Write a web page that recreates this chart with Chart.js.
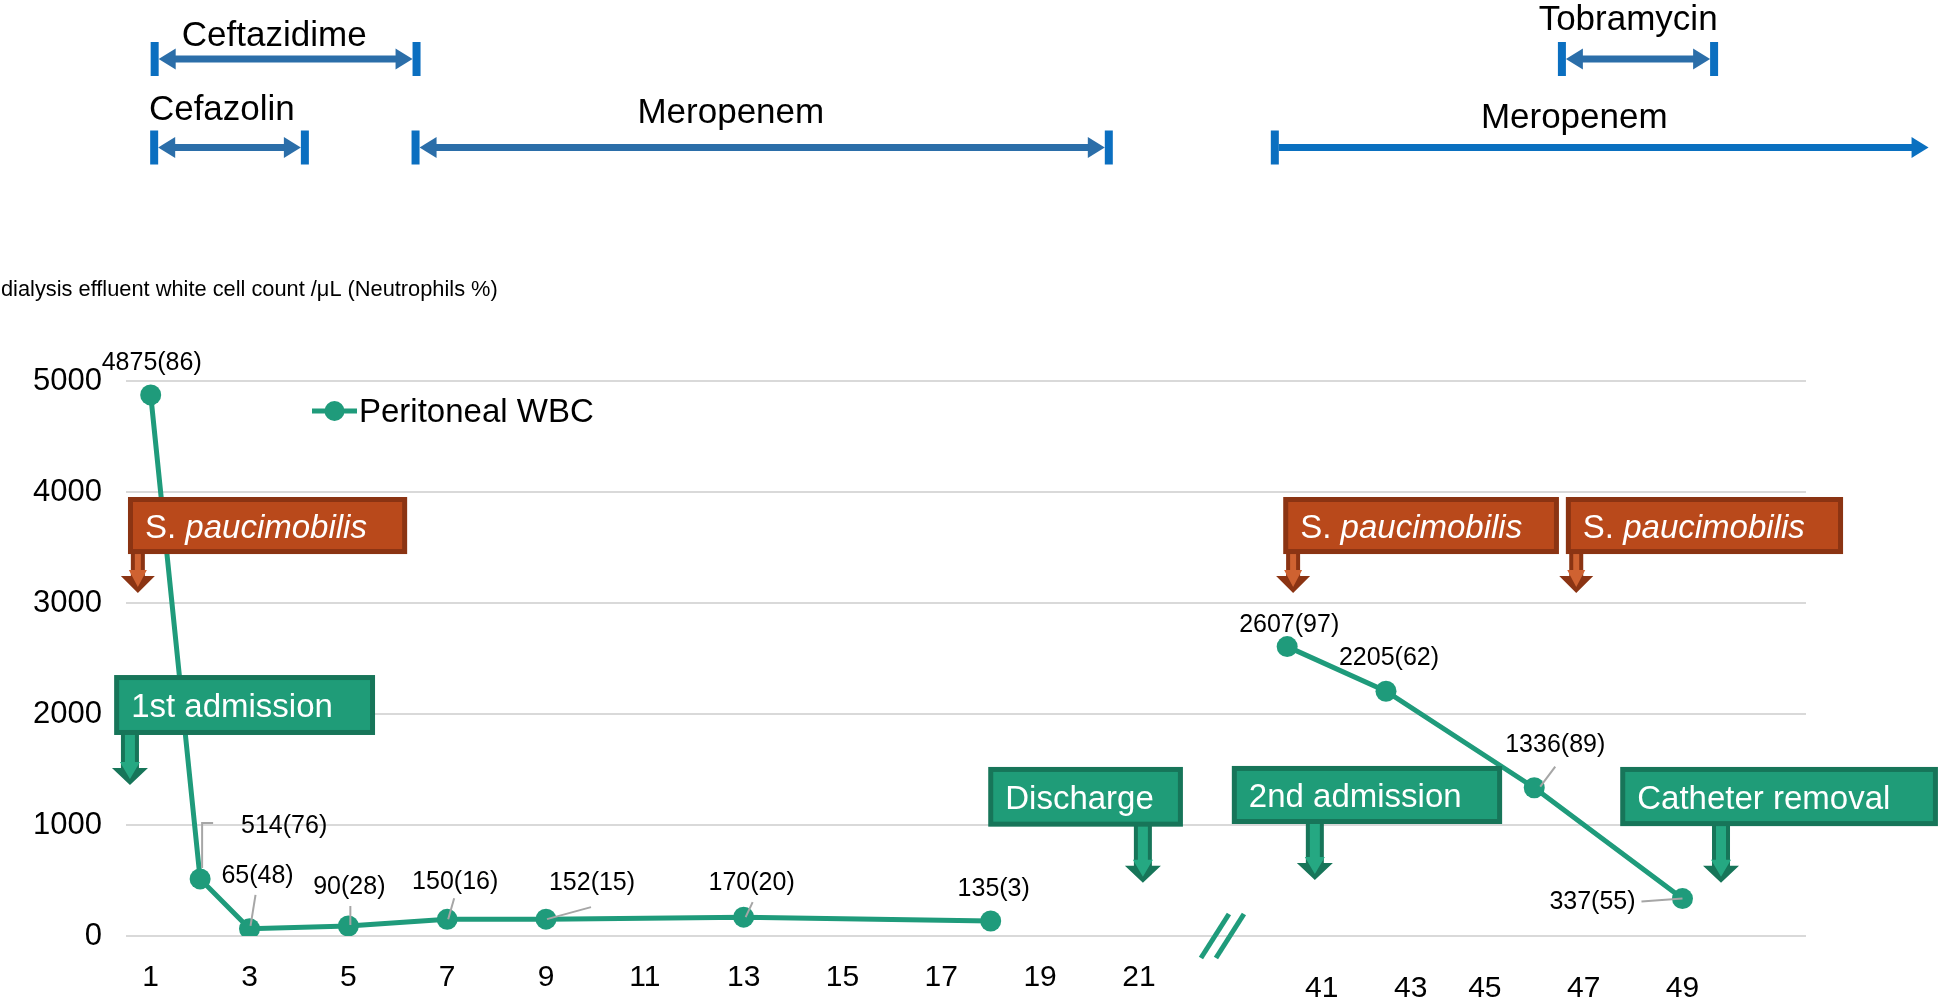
<!DOCTYPE html>
<html>
<head>
<meta charset="utf-8">
<script src="https://cdn.jsdelivr.net/npm/chart.js@4.4.1/dist/chart.umd.min.js"></script>
<style>
html, body { margin: 0; background: #fff; }
#wrap { width: 1953px; height: 1000px; }
</style>
</head>
<body>
<div id="wrap"><canvas id="chart" width="1953" height="1000"></canvas></div>
<script>
// DATA (x = position on the day axis, the axis is broken between day 21 and day 41)
var daySlot = [1, 2, 3, 5, 7, 9, 13, 18, 24, 26, 29, 32];
var wbc     = [4875, 514, 65, 90, 150, 152, 170, 135, 2607, 2205, 1336, 337];
var neutro  = [86, 76, 48, 28, 16, 15, 20, 3, 97, 62, 89, 55];
var breakAfter = 7; // no line between discharge and 2nd admission

var tickSlot = [1, 3, 5, 7, 9, 11, 13, 15, 17, 19, 21, 24.7, 26.5, 28, 30, 32];
var tickText = ['1','3','5','7','9','11','13','15','17','19','21','41','43','45','47','49'];

// antibiotics, in day-axis units
var drugName = ['Ceftazidime', 'Cefazolin', 'Meropenem', 'Tobramycin', 'Meropenem'];
var drugFrom = [1.08, 1.07, 6.36, 29.56, 23.75];
var drugTo   = [6.38, 4.12, 20.39, 32.64, 36.98];

// events, arrow positions in day-axis units
var eventText = ['1st admission', 'Discharge', '2nd admission', 'Catheter removal'];
var eventSlot = [0.58, 21.08, 24.56, 32.78];
var cultureSlot = [0.74, 24.12, 29.85];

// -----------------------------
// styles / placement
var FONT = '"Liberation Sans", Arial, Helvetica, sans-serif';
var TEAL = '#1f9b7b';
var GREEN = '#1f9c78', GREEN_DK = '#177559', GREEN_LT = '#25a882';
var BROWN = '#b9491b', BROWN_DK = '#8b3413', BROWN_LT = '#cf6231';
var BLUE = '#2b6ea9', BLUE_CAP = '#0b6fc0', BLUE2 = '#0a70c0';

var drugRowY  = [59, 147.5, 147.5, 59, 147.5];
var drugTextX = [3.5, 2.44, 12.74, 30.9, 29.81];
var drugTextY = [46, 120, 123, 30, 128];

var eventBox = [
  {x0: 0.26, x1: 5.54, top: 2351, bot: 1811, tip: 1360},
  {x0: 17.95, x1: 21.89, top: 1523, bot: 985, tip: 480},
  {x0: 22.88, x1: 28.35, top: 1532, bot: 1009, tip: 505},
  {x0: 30.74, x1: 37.17, top: 1523, bot: 990, tip: 480}
];
var cultureBox = [
  {x0: 0.54, x1: 6.19},
  {x0: 23.92, x1: 29.50},
  {x0: 29.64, x1: 35.25}
];
var cultureTop = 3955, cultureBot = 3441, cultureTip = 3090;

var labelOffset = [[1,-32],[84,-53],[8,-53],[1,-39],[8,-37],[46,-36],[8,-34],[3,-32],[2,-22],[3,-33],[21,-43],[-90,4]];
var leader = [null, [[2,-11],[2,-56],[13,-56]], [[1,-3],[6,-34]], [[2,-1],[2,-20]], [[1,0],[7,-21]],
  [[1,0],[45,-12]], [[2,0],[9,-15]], null, null, null, [[6,-1],[21,-21]], [[0,0],[-41,3]]];

// -----------------------------
function blockArrow(ctx, cx, top, tip, sw, hw, hl, dark, light){
  function poly(s, h, tp){
    ctx.beginPath();
    ctx.moveTo(cx - s, top);
    ctx.lineTo(cx + s, top);
    ctx.lineTo(cx + s, tp - hl);
    ctx.lineTo(cx + h, tp - hl);
    ctx.lineTo(cx, tp);
    ctx.lineTo(cx - h, tp - hl);
    ctx.lineTo(cx - s, tp - hl);
    ctx.closePath();
    ctx.fill();
  }
  ctx.fillStyle = dark; poly(sw / 2, hw / 2, tip);
  ctx.fillStyle = light; poly(sw / 2 - 4, hw / 2 - 8, tip - 6);
}

function drugBar(ctx, xa, xb, y, open){
  var capW = 8, capH = 34, sh = 7, hl = 17, hh = 21;
  var col = open ? BLUE2 : BLUE;
  ctx.fillStyle = BLUE_CAP;
  ctx.fillRect(xa - capW / 2, y - capH / 2, capW, capH);
  if(!open) ctx.fillRect(xb - capW / 2, y - capH / 2, capW, capH);
  ctx.fillStyle = col;
  var l = xa + capW / 2, r = open ? xb : xb - capW / 2;
  if(!open){
    ctx.beginPath(); ctx.moveTo(l, y); ctx.lineTo(l + hl, y - hh / 2); ctx.lineTo(l + hl, y + hh / 2); ctx.closePath(); ctx.fill();
  }
  ctx.beginPath(); ctx.moveTo(r, y); ctx.lineTo(r - hl, y - hh / 2); ctx.lineTo(r - hl, y + hh / 2); ctx.closePath(); ctx.fill();
  ctx.fillRect(open ? l : l + hl - 1, y - sh / 2, (r - hl + 1) - (open ? l : l + hl - 1), sh);
}

var annotate = {
  id: 'annotate',
  afterDatasetsDraw: function(chart){
    var ctx = chart.ctx, x = chart.scales.x, y = chart.scales.y;
    ctx.save();

    // axis break marks
    var bx = x.getPixelForValue(22.69), by = y.getPixelForValue(0);
    ctx.strokeStyle = TEAL; ctx.lineWidth = 5;
    [-7.5, 7.5].forEach(function(d){
      ctx.beginPath(); ctx.moveTo(bx + d - 14, by + 22); ctx.lineTo(bx + d + 14, by - 22); ctx.stroke();
    });

    // leader lines + data labels
    ctx.strokeStyle = '#a6a6a6'; ctx.lineWidth = 2;
    ctx.font = '25px ' + FONT; ctx.fillStyle = '#000';
    ctx.textAlign = 'center'; ctx.textBaseline = 'middle';
    for(var i = 0; i < wbc.length; i++){
      var px = x.getPixelForValue(daySlot[i]), py = y.getPixelForValue(wbc[i]);
      if(leader[i]){
        ctx.beginPath();
        leader[i].forEach(function(p, k){ k ? ctx.lineTo(px + p[0], py + p[1]) : ctx.moveTo(px + p[0], py + p[1]); });
        ctx.stroke();
      }
      ctx.fillText(wbc[i] + '(' + neutro[i] + ')', px + labelOffset[i][0], py + labelOffset[i][1]);
    }

    // culture callouts (brown)
    ctx.textAlign = 'left'; ctx.textBaseline = 'alphabetic';
    cultureBox.forEach(function(b, k){
      var L = x.getPixelForValue(b.x0), R = x.getPixelForValue(b.x1);
      var T = y.getPixelForValue(cultureTop), B = y.getPixelForValue(cultureBot);
      blockArrow(ctx, x.getPixelForValue(cultureSlot[k]), B - 2, y.getPixelForValue(cultureTip), 14, 34, 17, BROWN_DK, BROWN_LT);
      ctx.fillStyle = BROWN_DK; ctx.fillRect(L, T, R - L, B - T);
      ctx.fillStyle = BROWN; ctx.fillRect(L + 5, T + 5, R - L - 10, B - T - 10);
      ctx.fillStyle = '#fff';
      ctx.font = '33px ' + FONT;
      var tx = L + 17, ty = (T + B) / 2 + 12;
      ctx.fillText('S. ', tx, ty);
      var w = ctx.measureText('S. ').width;
      ctx.font = 'italic 33px ' + FONT;
      ctx.fillText('paucimobilis', tx + w, ty);
    });

    // event callouts (green)
    eventBox.forEach(function(b, k){
      var L = x.getPixelForValue(b.x0), R = x.getPixelForValue(b.x1);
      var T = y.getPixelForValue(b.top), B = y.getPixelForValue(b.bot);
      blockArrow(ctx, x.getPixelForValue(eventSlot[k]), B - 2, y.getPixelForValue(b.tip), 18, 36, 17, GREEN_DK, GREEN_LT);
      ctx.fillStyle = GREEN_DK; ctx.fillRect(L, T, R - L, B - T);
      ctx.fillStyle = GREEN; ctx.fillRect(L + 5, T + 5, R - L - 10, B - T - 10);
      ctx.fillStyle = '#fff';
      ctx.font = '33px ' + FONT;
      ctx.fillText(eventText[k], L + 17, (T + B) / 2 + 12);
    });

    // antibiotic bars
    drugName.forEach(function(n, k){
      drugBar(ctx, x.getPixelForValue(drugFrom[k]), x.getPixelForValue(drugTo[k]), drugRowY[k], k === 4);
      ctx.fillStyle = '#000'; ctx.font = '35px ' + FONT; ctx.textAlign = 'center';
      ctx.fillText(n, x.getPixelForValue(drugTextX[k]), drugTextY[k]);
    });

    // legend
    var lx = chart.chartArea.left + 186, ly = chart.chartArea.top + 30;
    ctx.strokeStyle = TEAL; ctx.lineWidth = 5;
    ctx.beginPath(); ctx.moveTo(lx, ly); ctx.lineTo(lx + 45, ly); ctx.stroke();
    ctx.fillStyle = TEAL; ctx.beginPath(); ctx.arc(lx + 22.5, ly, 10, 0, Math.PI * 2); ctx.fill();
    ctx.fillStyle = '#000'; ctx.font = '33px ' + FONT; ctx.textAlign = 'left';
    ctx.fillText('Peritoneal WBC', lx + 47, ly + 11);

    // y axis title
    ctx.font = '21.8px ' + FONT;
    ctx.fillText('dialysis effluent white cell count /\u03bcL (Neutrophils %)', 1, 296);

    ctx.restore();
  }
};

// -----------------------------
Chart.defaults.font.family = FONT;
Chart.defaults.color = '#000';

var points = daySlot.map(function(d, i){ return {x: d, y: wbc[i]}; });

new Chart(document.getElementById('chart'), {
  type: 'line',
  data: {
    datasets: [{
      label: 'Peritoneal WBC',
      data: points,
      borderColor: TEAL,
      backgroundColor: TEAL,
      borderWidth: 5,
      pointRadius: 10.5,
      pointBorderWidth: 0,
      pointBackgroundColor: TEAL,
      segment: {
        borderColor: function(c){ return c.p0DataIndex === breakAfter ? 'rgba(0,0,0,0)' : TEAL; }
      }
    }]
  },
  options: {
    responsive: false,
    animation: false,
    events: [],
    layout: { autoPadding: false, padding: { top: 381, right: 147, bottom: 0, left: 0 } },
    plugins: { legend: { display: false }, tooltip: { enabled: false } },
    scales: {
      x: {
        type: 'linear', min: 0.5, max: 34.5,
        grid: { display: false },
        border: { display: false },
        afterBuildTicks: function(s){ s.ticks = tickSlot.map(function(v){ return {value: v}; }); },
        afterFit: function(s){ s.height = 64; },
        ticks: {
          autoSkip: false, maxRotation: 0, minRotation: 0, padding: 16,
          font: function(c){ return {family: FONT, size: 30, lineHeight: (c.tick && c.tick.value > 22) ? 1.9 : 1.2}; },
          callback: function(v, i){ return tickText[i]; }
        }
      },
      y: {
        min: 0, max: 5000,
        grid: { color: '#d9d9d9', lineWidth: 2, drawTicks: false },
        border: { display: false },
        afterFit: function(s){ s.width = 126; },
        ticks: { stepSize: 1000, padding: 24, font: { size: 31 }, callback: function(v){ return String(v); } }
      }
    }
  },
  plugins: [annotate]
});
</script>
</body>
</html>
